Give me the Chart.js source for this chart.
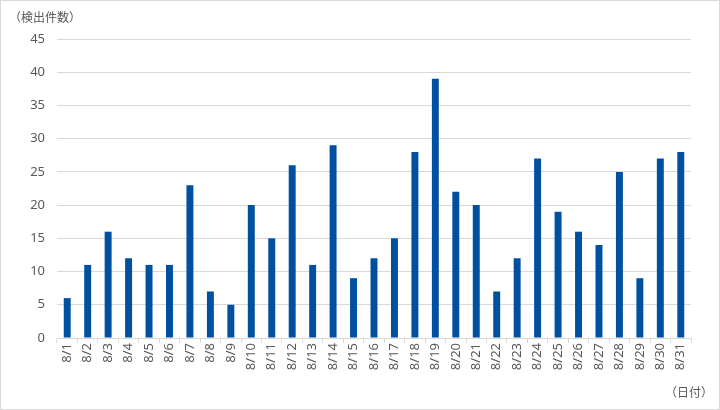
<!DOCTYPE html>
<html>
<head>
<meta charset="utf-8">
<script src="https://cdn.jsdelivr.net/npm/chart.js@4"></script>
<style>
  body { margin: 0; background: #fff; }
  #box { position: relative; width: 720px; height: 410px; box-sizing: border-box; border: 1px solid #d9d9d9; background: #fff; }
  #box canvas { position: absolute; left: 0; top: 0; }
  .lbl { position: absolute; font-family: "Noto Sans CJK JP", sans-serif; font-size: 12px; color: #595959; }
</style>
</head>
<body>
<div id="box">
  <canvas id="myChart" width="718" height="408"></canvas>
  <div class="lbl" style="left:8px; top:7px;">（検出件数）</div>
  <div class="lbl" style="left:664px; top:382px;">（日付）</div>
</div>
<script>
// 8月の日別検出件数
const days = ['8/1','8/2','8/3','8/4','8/5','8/6','8/7','8/8','8/9','8/10','8/11','8/12','8/13','8/14','8/15','8/16',
  '8/17','8/18','8/19','8/20','8/21','8/22','8/23','8/24','8/25','8/26','8/27','8/28','8/29','8/30','8/31'];
const counts = [6, 11, 16, 12, 11, 11, 23, 7, 5, 20, 15, 26, 11, 29, 9, 12,
  15, 28, 39, 22, 20, 7, 12, 27, 19, 16, 14, 25, 9, 27, 28];
const yTicks = [0, 5, 10, 15, 20, 25, 30, 35, 40, 45];

const ctx = document.getElementById('myChart').getContext('2d');
const myChart = new Chart(ctx, {
  type: 'bar',
  data: {
    labels: days,
    datasets: [{
      data: counts,
      backgroundColor: '#0050a0',
      barPercentage: 0.34,
      categoryPercentage: 1
    }]
  },
  options: {
    responsive: false,
    animation: false,
    layout: { padding: { top: 38, right: 28, bottom: 0, left: 0 } },
    plugins: { legend: { display: false }, tooltip: { enabled: false } },
    scales: {
      x: {
        offset: true,
        grid: { display: true, drawOnChartArea: false, offset: true, tickLength: 5, color: '#d9d9d9' },
        border: { color: '#d9d9d9' },
        ticks: { minRotation: 90, maxRotation: 90, color: '#595959', font: { family: 'Noto Sans', size: 13 }, padding: 0 },
        afterFit: (scale) => { scale.height = 71; }
      },
      y: {
        min: 0,
        max: 45,
        afterBuildTicks: (scale) => { scale.ticks = yTicks.map(v => ({ value: v })); },
        grid: { color: '#d9d9d9', drawTicks: false },
        border: { display: false },
        ticks: { color: '#595959', font: { family: 'Noto Sans', size: 13 }, padding: 12 },
        afterFit: (scale) => { scale.width = 56; }
      }
    }
  }
});
</script>
</body>
</html>
